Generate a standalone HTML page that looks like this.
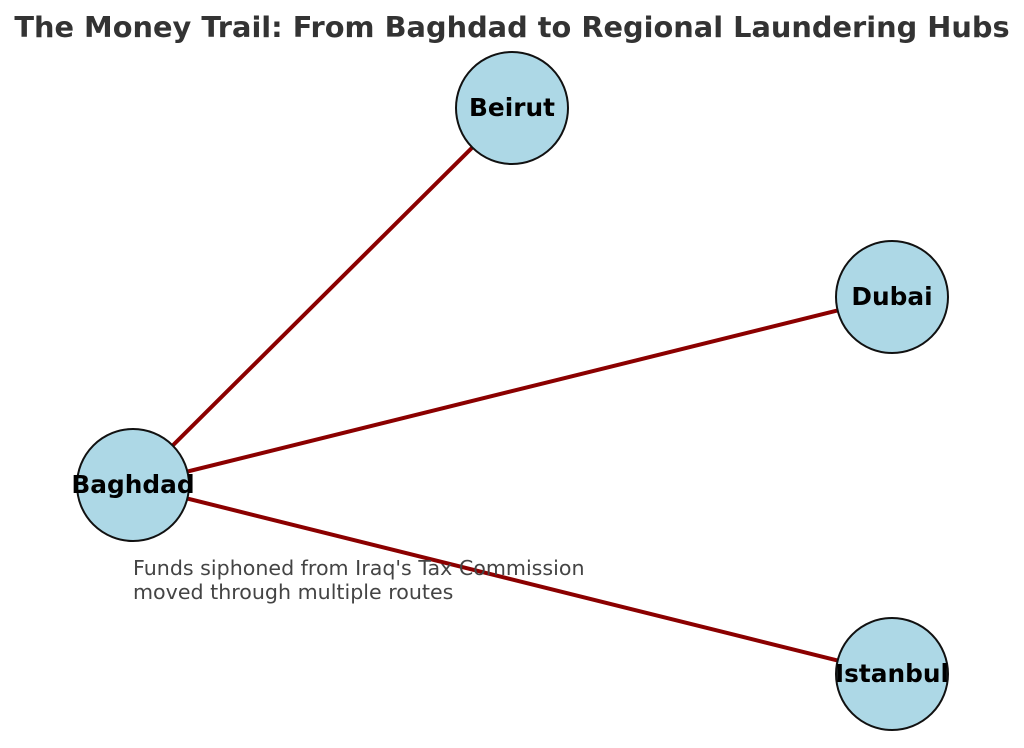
<!DOCTYPE html>
<html><head><meta charset="utf-8"><style>
html,body{margin:0;padding:0;background:#fff;width:1024px;height:748px;overflow:hidden}
</style></head><body>
<svg width="1024" height="748" viewBox="0 0 1024 748" xmlns="http://www.w3.org/2000/svg">
<rect width="1024" height="748" fill="#fff"/>
<text x="512" y="37" text-anchor="middle" font-family="DejaVu Sans, Liberation Sans, sans-serif" font-weight="bold" font-size="28.8" fill="#333">The Money Trail: From Baghdad to Regional Laundering Hubs</text>
<g stroke="#8b0000" stroke-width="4" stroke-linecap="round">
<line x1="133" y1="485" x2="512" y2="108"/>
<line x1="133" y1="485" x2="892" y2="297"/>
<line x1="133" y1="485" x2="892" y2="674"/>
</g>
<g fill="#add8e6" stroke="#111" stroke-width="2">
<circle cx="512" cy="108" r="56"/>
<circle cx="892" cy="297" r="56"/>
<circle cx="133" cy="485" r="56"/>
<circle cx="892" cy="674" r="56"/>
</g>
<g font-family="DejaVu Sans, Liberation Sans, sans-serif" font-weight="bold" font-size="24.8" fill="#000" text-anchor="middle">
<text x="512" y="116">Beirut</text>
<text x="892" y="305">Dubai</text>
<text x="133" y="493">Baghdad</text>
<text x="892" y="682">Istanbul</text>
</g>
<g font-family="DejaVu Sans, Liberation Sans, sans-serif" font-size="20.6" fill="#444">
<text x="133" y="575">Funds siphoned from Iraq's Tax Commission</text>
<text x="133" y="599">moved through multiple routes</text>
</g>
</svg>
</body></html>
